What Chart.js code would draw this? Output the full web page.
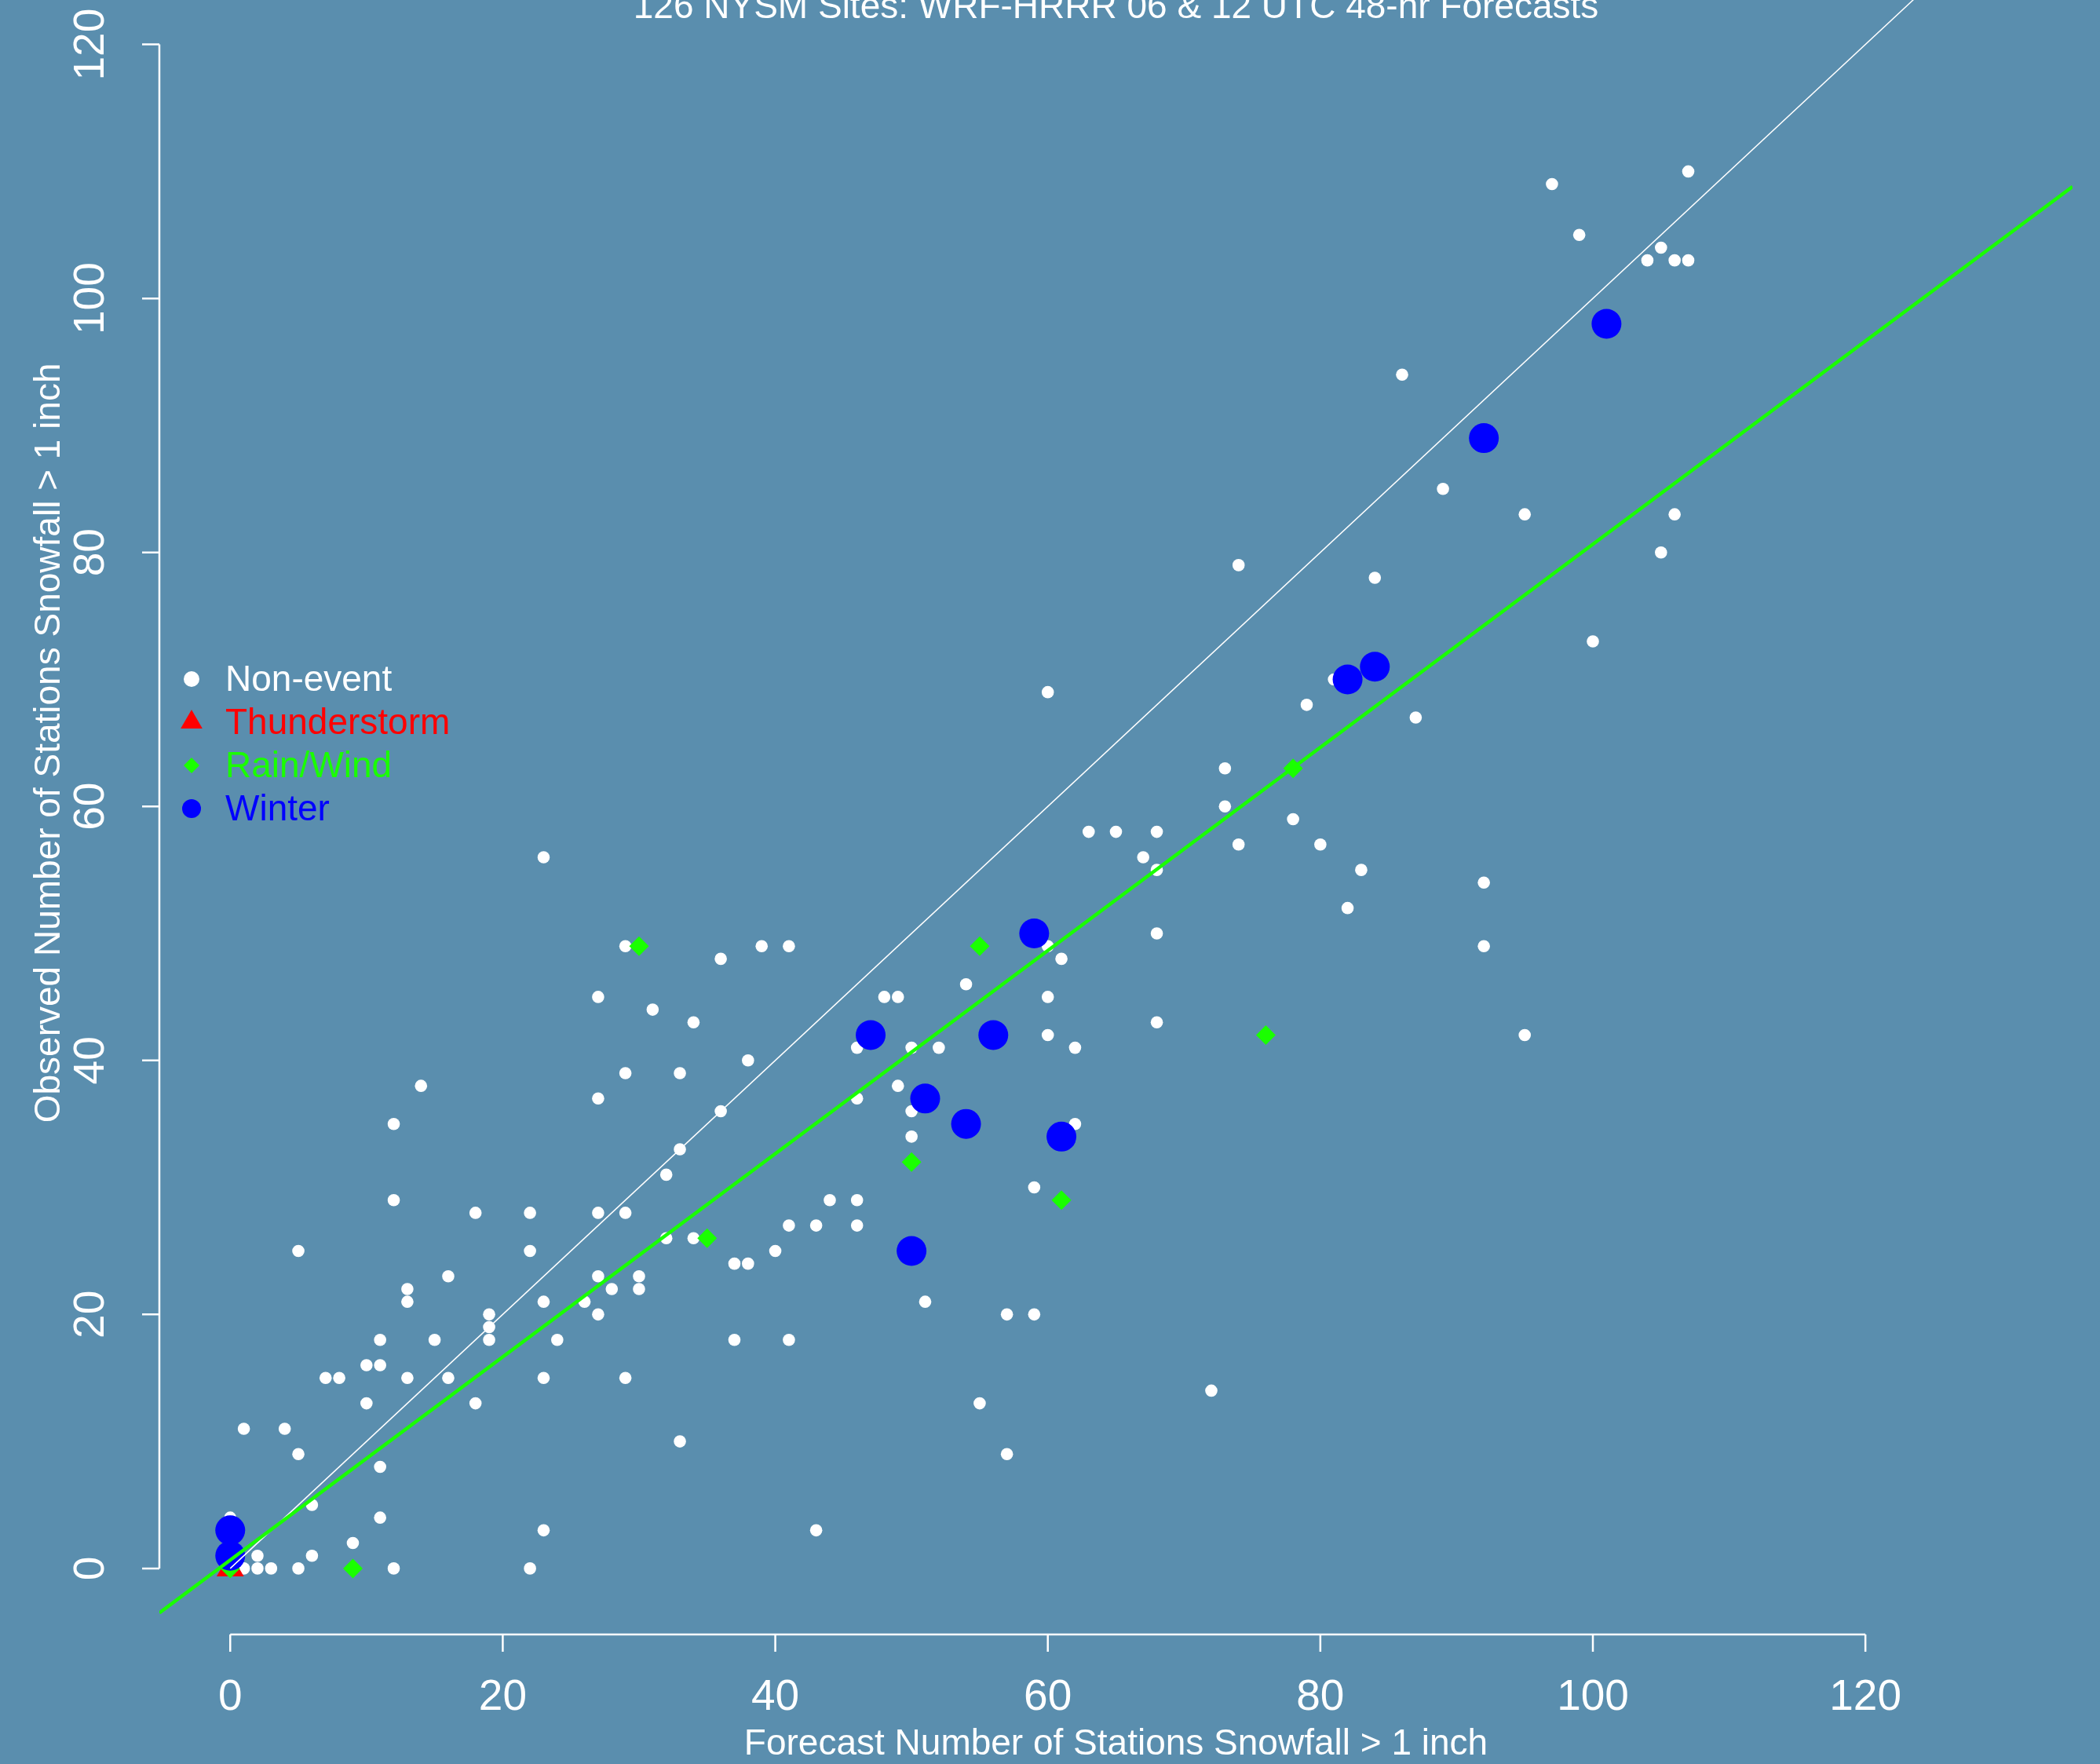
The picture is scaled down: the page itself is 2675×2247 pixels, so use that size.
<!DOCTYPE html>
<html>
<head>
<meta charset="utf-8">
<title>126 NYSM Sites: WRF-HRRR forecast vs observed snowfall</title>
<script src="https://cdn.jsdelivr.net/npm/chart.js@4.4.1/dist/chart.umd.min.js"></script>
<style>
  html, body { margin: 0; padding: 0; background: #5a8eae; }
  canvas { display: block; }
</style>
</head>
<body>
<canvas id="scatter" width="2675" height="2247"></canvas>
<script>
// [forecast, observed] number of stations with snowfall > 1 inch
const nonEvent = [
  [0,4], [1,11], [1,0], [2,1], [2,0], [3,0], [4,11], [5,25], [5,9], [5,0],
  [6,5], [6,1], [7,15], [8,15], [9,2], [10,16], [10,13], [11,18], [11,16], [11,8],
  [11,4], [12,35], [12,29], [12,0], [13,22], [13,21], [13,15], [14,38], [15,18], [16,23],
  [16,15], [18,28], [18,13], [19,20], [19,19], [19,18], [22,28], [22,25], [22,0], [23,56],
  [23,21], [23,15], [23,3], [24,18], [26,21], [27,45], [27,37], [27,28], [27,23], [27,20],
  [28,22], [29,49], [29,39], [29,28], [29,15], [30,23], [30,22], [31,44], [32,31], [32,26],
  [33,39], [33,33], [33,10], [34,43], [34,26], [36,48], [36,36], [37,24], [37,18], [38,40],
  [38,24], [39,49], [40,25], [41,49], [41,27], [41,18], [43,27], [43,3], [44,29], [46,41],
  [46,37], [46,29], [46,27], [48,45], [49,45], [49,38], [50,41], [50,36], [50,34], [51,21],
  [52,41], [54,46], [55,13], [57,20], [57,9], [59,30], [59,20], [60,69], [60,49], [60,45],
  [60,42], [61,48], [62,41], [62,35], [63,58], [65,58], [67,56], [68,58], [68,55], [68,50],
  [68,43], [72,14], [73,63], [73,60], [74,79], [74,57], [78,59], [79,68], [80,57], [81,70],
  [82,52], [83,55], [84,78], [86,94], [87,67], [89,85], [92,54], [92,49], [95,83], [95,42],
  [97,109], [99,105], [100,73], [104,103], [105,104], [105,80], [106,103], [106,83], [107,110], [107,103]
];
const thunderstorm = [[0,0]];
const rainWind = [[0,0], [9,0], [30,49], [35,26], [50,32], [55,49], [61,29], [76,42], [78,63]];
const winter = [
  [0,3], [0,1], [47,42], [50,25], [51,37], [54,35], [56,42], [59,50], [61,34],
  [82,70], [84,71], [92,89], [101,98]
];
// least-squares fit (green) and 1:1 line (white), end points
const fitLine = [[-5.2,-3.5], [135.2,108.8]];
const oneToOne = [[0,0], [130,130]];

const xTicks = [0, 20, 40, 60, 80, 100, 120];
const yTicks = [0, 20, 40, 60, 80, 100, 120];

const titleText = '126 NYSM Sites: WRF-HRRR 06 & 12 UTC 48-hr Forecasts';
const xTitle = 'Forecast Number of Stations Snowfall > 1 inch';
const yTitle = 'Observed Number of Stations Snowfall > 1 inch';

const legendItems = [
  { label: 'Non-event', color: '#ffffff', style: 'circle', radius: 10 },
  { label: 'Thunderstorm', color: '#ff0000', style: 'triangle', radius: 16 },
  { label: 'Rain/Wind', color: '#1aff00', style: 'rectRot', radius: 10 },
  { label: 'Winter', color: '#0000ff', style: 'circle', radius: 12 }
];

const toPoints = arr => arr.map(([x, y]) => ({ x, y }));
const FONT = '"Liberation Sans", Arial, Helvetica, sans-serif';

// R-style axes, titles and legend drawn on top of the chart
const overlay = {
  id: 'overlay',
  afterDraw(chart) {
    const { ctx, chartArea, scales: { x, y } } = chart;
    ctx.save();
    ctx.strokeStyle = '#ffffff';
    ctx.fillStyle = '#ffffff';
    ctx.lineWidth = 2.5;

    // x axis
    const yb = chartArea.bottom;
    ctx.beginPath();
    ctx.moveTo(x.getPixelForValue(xTicks[0]), yb);
    ctx.lineTo(x.getPixelForValue(xTicks[xTicks.length - 1]), yb);
    xTicks.forEach(v => {
      const px = x.getPixelForValue(v);
      ctx.moveTo(px, yb);
      ctx.lineTo(px, yb + 22);
    });
    // y axis
    const xl = chartArea.left;
    ctx.moveTo(xl, y.getPixelForValue(yTicks[0]));
    ctx.lineTo(xl, y.getPixelForValue(yTicks[yTicks.length - 1]));
    yTicks.forEach(v => {
      const py = y.getPixelForValue(v);
      ctx.moveTo(xl, py);
      ctx.lineTo(xl - 22, py);
    });
    ctx.stroke();

    ctx.font = '55px ' + FONT;
    ctx.textAlign = 'center';
    ctx.textBaseline = 'middle';
    xTicks.forEach(v => ctx.fillText(String(v), x.getPixelForValue(v), yb + 81));
    yTicks.forEach(v => {
      ctx.save();
      ctx.translate(xl - 86, y.getPixelForValue(v));
      ctx.rotate(-Math.PI / 2);
      ctx.fillText(String(v), 0, 0);
      ctx.restore();
    });

    // axis titles and main title
    const cx = (chartArea.left + chartArea.right) / 2;
    const cy = y.getPixelForValue(65);
    ctx.font = '46px ' + FONT;
    ctx.fillText(xTitle, cx, yb + 140);
    ctx.save();
    ctx.translate(63, cy);
    ctx.rotate(-Math.PI / 2);
    ctx.fillText(yTitle, 0, 0);
    ctx.restore();
    ctx.textBaseline = 'alphabetic';
    ctx.fillText(titleText, cx, 23);

    // legend
    ctx.textAlign = 'left';
    ctx.textBaseline = 'middle';
    legendItems.forEach((item, i) => {
      const ly = 865 + i * 55;
      ctx.fillStyle = item.color;
      Chart.helpers.drawPoint(ctx, {
        pointStyle: item.style, radius: item.radius, rotation: 0, borderWidth: 0
      }, 244, ly);
      ctx.fillStyle = item.color;
      ctx.fillText(item.label, 287, ly + 2);
    });
    ctx.restore();
  }
};

new Chart(document.getElementById('scatter'), {
  type: 'scatter',
  data: {
    datasets: [
      {
        label: 'Fit',
        data: toPoints(fitLine),
        showLine: true,
        borderColor: '#1aff00',
        borderWidth: 4.5,
        pointRadius: 0
      },
      {
        label: '1:1',
        data: toPoints(oneToOne),
        showLine: true,
        borderColor: '#ffffff',
        borderWidth: 1.5,
        pointRadius: 0
      },
      {
        label: 'Winter',
        data: toPoints(winter),
        pointStyle: 'circle',
        pointRadius: 19,
        backgroundColor: '#0000ff',
        borderWidth: 0
      },
      {
        label: 'Rain/Wind',
        data: toPoints(rainWind),
        pointStyle: 'rectRot',
        pointRadius: 12.5,
        backgroundColor: '#1aff00',
        borderWidth: 0
      },
      {
        label: 'Thunderstorm',
        data: toPoints(thunderstorm),
        pointStyle: 'triangle',
        pointRadius: 20,
        backgroundColor: '#ff0000',
        borderWidth: 0
      },
      {
        label: 'Non-event',
        data: toPoints(nonEvent),
        pointStyle: 'circle',
        pointRadius: 7.8,
        backgroundColor: '#ffffff',
        borderWidth: 0
      }
    ]
  },
  options: {
    responsive: false,
    animation: false,
    devicePixelRatio: 1,
    layout: { autoPadding: false, padding: { left: 203, right: 35, top: 0, bottom: 165 } },
    scales: {
      x: { type: 'linear', min: -5.2, max: 135.2, display: false },
      y: { type: 'linear', min: -5.2, max: 123.5, display: false }
    },
    plugins: {
      legend: { display: false },
      tooltip: { enabled: false }
    }
  },
  plugins: [overlay]
});
</script>
</body>
</html>
